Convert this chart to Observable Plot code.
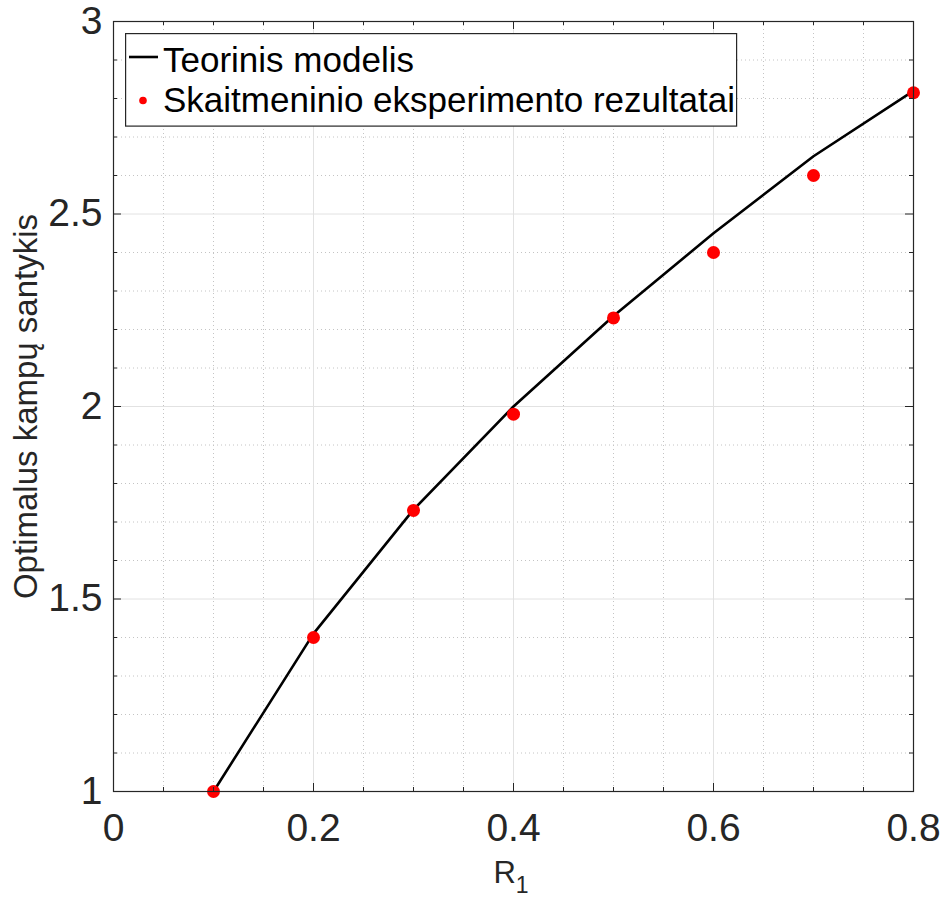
<!DOCTYPE html>
<html>
<head>
<meta charset="utf-8">
<script src="https://cdn.jsdelivr.net/npm/d3@7"></script>
<script src="https://cdn.jsdelivr.net/npm/@observablehq/plot@0.6"></script>
<style>
  html, body { margin: 0; padding: 0; background: #ffffff; }
  #wrap { position: relative; width: 943px; height: 898px; font-family: "Liberation Sans", Arial, Helvetica, sans-serif; }
  #legend { position: absolute; left: 125px; top: 33px; }
  #xtitle { position: absolute; left: 111px; width: 800px; top: 857px; text-align: center; font-size: 31px; line-height: 31px; color: #262626; }
  #xtitle .sub { position: relative; top: 10px; font-size: 23px; }
</style>
</head>
<body>
<div id="wrap"></div>
<script>
// ---- data ----
const r1Values = [0.1, 0.2, 0.3, 0.4, 0.5, 0.6, 0.7, 0.8];
const theoryValues = [1.0, 1.41, 1.732, 2.0, 2.235, 2.45, 2.65, 2.82];
const experimentValues = [1.0, 1.40, 1.73, 1.98, 2.23, 2.40, 2.60, 2.815];

const xTickValues = [0, 0.2, 0.4, 0.6, 0.8];
const xTickLabels = ["0", "0.2", "0.4", "0.6", "0.8"];
const yTickValues = [1, 1.5, 2, 2.5, 3];
const yTickLabels = ["1", "1.5", "2", "2.5", "3"];
const xMinorValues = [0.05, 0.1, 0.15, 0.25, 0.3, 0.35, 0.45, 0.5, 0.55, 0.65, 0.7, 0.75];
const yMinorValues = [1.1, 1.2, 1.3, 1.4, 1.6, 1.7, 1.8, 1.9, 2.1, 2.2, 2.3, 2.4, 2.6, 2.7, 2.8, 2.9];

const seriesNames = ["Teorinis modelis", "Skaitmeninio eksperimento rezultatai"];
const xTitle = "R";
const xTitleSub = "1";
const yTitle = "Optimalus kampų santykis";

// ---- build tables ----
const theory = r1Values.map((x, i) => ({x, y: theoryValues[i]}));
const experiment = r1Values.map((x, i) => ({x, y: experimentValues[i]}));

const W = 943, H = 898;
const mL = 113, mR = 30, mT = 21, mB = 107;
const frameW = W - mL - mR, frameH = H - mT - mB;
const majorLen = 8, minorLen = 4;
const axisColor = "#262626";

const chart = Plot.plot({
  width: W,
  height: H,
  marginLeft: mL,
  marginRight: mR,
  marginTop: mT,
  marginBottom: mB,
  style: {fontFamily: "'Liberation Sans', Arial, Helvetica, sans-serif", background: "#ffffff", color: axisColor},
  x: {domain: [0, 0.8]},
  y: {domain: [1, 3]},
  marks: [
    // minor dotted grid
    Plot.ruleX(xMinorValues, {x: d => d, stroke: "#c4c4c4", strokeWidth: 1, strokeDasharray: "1,3"}),
    Plot.ruleY(yMinorValues, {y: d => d, stroke: "#c4c4c4", strokeWidth: 1, strokeDasharray: "1,3"}),
    // major solid grid
    Plot.ruleX(xTickValues, {x: d => d, stroke: "#e2e2e2", strokeWidth: 1}),
    Plot.ruleY(yTickValues, {y: d => d, stroke: "#e2e2e2", strokeWidth: 1}),
    // data
    Plot.line(theory, {x: "x", y: "y", stroke: "#000000", strokeWidth: 2.6}),
    Plot.dot(experiment, {x: "x", y: "y", r: 6.5, fill: "#ff0000", stroke: "none"}),
    // frame (box)
    Plot.frame({stroke: axisColor, strokeWidth: 1.2}),
    // inward ticks: bottom & top
    Plot.tickX(xTickValues, {x: d => d, stroke: axisColor, insetTop: frameH - majorLen}),
    Plot.tickX(xTickValues, {x: d => d, stroke: axisColor, insetBottom: frameH - majorLen}),
    Plot.tickX(xMinorValues, {x: d => d, stroke: axisColor, insetTop: frameH - minorLen}),
    Plot.tickX(xMinorValues, {x: d => d, stroke: axisColor, insetBottom: frameH - minorLen}),
    // inward ticks: left & right
    Plot.tickY(yTickValues, {y: d => d, stroke: axisColor, insetRight: frameW - majorLen}),
    Plot.tickY(yTickValues, {y: d => d, stroke: axisColor, insetLeft: frameW - majorLen}),
    Plot.tickY(yMinorValues, {y: d => d, stroke: axisColor, insetRight: frameW - minorLen}),
    Plot.tickY(yMinorValues, {y: d => d, stroke: axisColor, insetLeft: frameW - minorLen}),
    // tick labels
    Plot.axisX({
      anchor: "bottom", ticks: xTickValues, tickFormat: (d) => xTickLabels[xTickValues.indexOf(d)],
      tickSize: 0, tickPadding: 22, fontSize: 39, fill: axisColor, label: null
    }),
    Plot.axisY({
      anchor: "left", ticks: yTickValues, tickFormat: (d) => yTickLabels[yTickValues.indexOf(d)],
      tickSize: 0, tickPadding: 11, fontSize: 39, fill: axisColor, label: null
    }),
    // y title
    Plot.axisY({
      anchor: "left", ticks: [], tickSize: 0, label: yTitle, labelAnchor: "center",
      labelArrow: "none", labelOffset: 100, fontSize: 33, fill: axisColor
    })
  ]
});

const wrap = document.getElementById("wrap");
wrap.appendChild(chart);

// ---- legend (overlay) ----
const ns = "http://www.w3.org/2000/svg";
const lg = document.createElementNS(ns, "svg");
lg.setAttribute("id", "legend");
lg.setAttribute("width", 613);
lg.setAttribute("height", 95);
lg.innerHTML = `
  <rect x="0.6" y="0.6" width="611" height="92.5" fill="#ffffff" stroke="${axisColor}" stroke-width="1.2"></rect>
  <line x1="4" x2="33" y1="24" y2="24" stroke="#000000" stroke-width="2.6"></line>
  <text x="38" y="38.5" font-size="35" fill="#000000" font-family="'Liberation Sans', Arial, sans-serif">${seriesNames[0]}</text>
  <circle cx="18" cy="67.5" r="3.8" fill="#ff0000"></circle>
  <text x="38" y="79" font-size="35" fill="#000000" font-family="'Liberation Sans', Arial, sans-serif">${seriesNames[1]}</text>
`;
wrap.appendChild(lg);

// ---- x title ----
const xt = document.createElement("div");
xt.id = "xtitle";
xt.innerHTML = `${xTitle}<span class="sub">${xTitleSub}</span>`;
wrap.appendChild(xt);
</script>
</body>
</html>
